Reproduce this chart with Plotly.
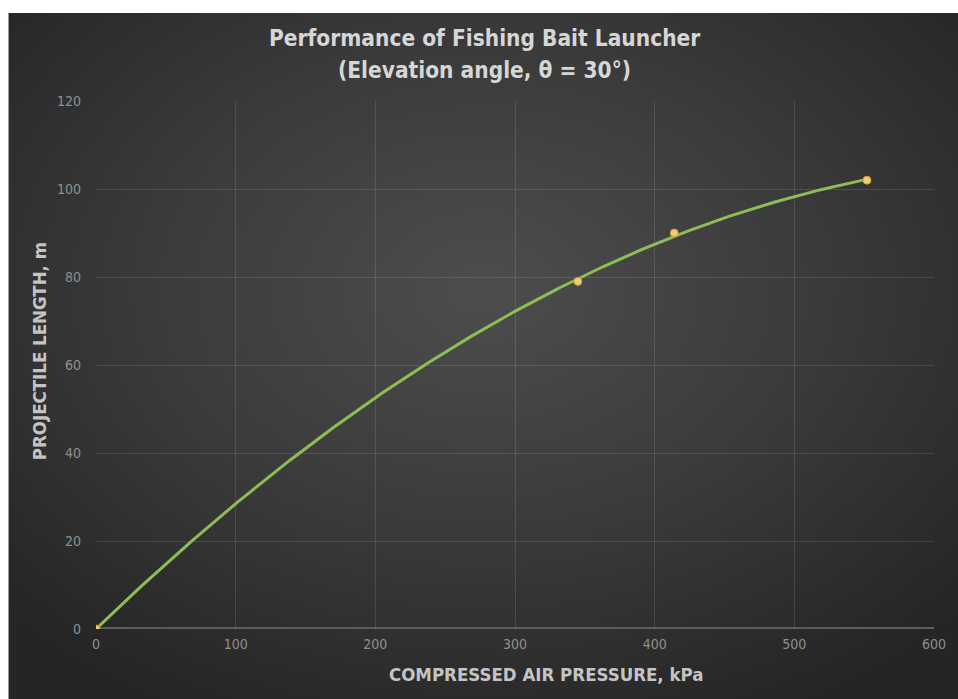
import base64
import numpy as np
import plotly.graph_objects as go

# ---- Data ----
pressure_kpa = [0, 345, 414, 552]
projectile_length_m = [0, 79, 90, 102]
x_ticks = [0, 100, 200, 300, 400, 500, 600]
y_ticks = [0, 20, 40, 60, 80, 100, 120]

title_line1 = "Performance of Fishing Bait Launcher"
title_line2 = "(Elevation angle, θ = 30°)"
x_title = "COMPRESSED AIR PRESSURE, kPa"
y_title = "PROJECTILE LENGTH, m"

# ---- Trendline: 2nd-order polynomial least-squares fit (intercept 0), as Excel draws it ----
xd = np.array(pressure_kpa, dtype=float)
yd = np.array(projectile_length_m, dtype=float)
coef, *_ = np.linalg.lstsq(np.column_stack([xd, xd ** 2]), yd, rcond=None)
trend_x = np.linspace(xd.min(), xd.max(), 300)
trend_y = coef[0] * trend_x + coef[1] * trend_x ** 2

# ---- Layout geometry (page margin removed, so figure px == screen px) ----
W, H = 958, 699
ML, MR, MT, MB = 96, 21, 101, 70
PW, PH = W - ML - MR, H - MT - MB


def px_x(px):
    return (px - ML) / PW


def px_y(py):
    return 1 - (py - MT) / PH


BG_X0, BG_Y0 = 8, 13
BW, BH = W - BG_X0 + 4, H - BG_Y0 + 4
svg = f'''<svg xmlns="http://www.w3.org/2000/svg" width="{BW}" height="{BH}" viewBox="0 0 {BW} {BH}" preserveAspectRatio="none">
<defs><radialGradient id="g" cx="50%" cy="40%" r="68%">
<stop offset="0%" stop-color="#4d4d4d"/><stop offset="50%" stop-color="#3b3b3b"/><stop offset="100%" stop-color="#252525"/>
</radialGradient></defs><rect width="{BW}" height="{BH}" fill="url(#g)"/></svg>'''
src = "data:image/svg+xml;base64," + base64.b64encode(svg.encode()).decode()

FONT = "DejaVu Sans Condensed, Liberation Sans Narrow, Arial Narrow, sans-serif"

fig = go.Figure()
fig.add_trace(go.Scatter(
    x=trend_x, y=trend_y, mode="lines",
    line=dict(color="#8dbd55", width=3),
    hoverinfo="skip", showlegend=False, name="Poly. trendline"))
fig.add_trace(go.Scatter(
    x=pressure_kpa, y=projectile_length_m, mode="markers",
    marker=dict(color="#f0cd70", size=8, line=dict(color="#c99a3c", width=1)),
    showlegend=False, name="Measured"))

axis_common = dict(showgrid=True, gridcolor="rgba(255,255,255,0.11)", gridwidth=1,
                   zeroline=False, showline=False, ticks="",
                   tickfont=dict(family=FONT, size=14, color="#8f8f8f"))

fig.update_layout(
    width=W, height=H,
    margin=dict(l=ML, r=MR, t=MT, b=MB),
    paper_bgcolor="white", plot_bgcolor="rgba(0,0,0,0)",
    images=[dict(source=src, xref="paper", yref="paper",
                 x=px_x(BG_X0), y=px_y(BG_Y0), sizex=BW / PW, sizey=BH / PH,
                 xanchor="left", yanchor="top", sizing="stretch", layer="below")],
    xaxis=dict(range=[0, 600], tickvals=x_ticks, ticklabelstandoff=5, **axis_common),
    yaxis=dict(range=[0, 120], tickvals=y_ticks, ticklabelstandoff=14, **axis_common),
    annotations=[
        dict(text=title_line1, xref="paper", yref="paper", x=px_x(486), y=px_y(38),
             xanchor="center", yanchor="middle", showarrow=False,
             font=dict(family=FONT, size=22.5, color="#d6d6d6", weight="bold")),
        dict(text=title_line2, xref="paper", yref="paper", x=px_x(486), y=px_y(70),
             xanchor="center", yanchor="middle", showarrow=False,
             font=dict(family=FONT, size=22.5, color="#d6d6d6", weight="bold")),
        dict(text=x_title, xref="paper", yref="paper", x=px_x(548), y=px_y(674),
             xanchor="center", yanchor="middle", showarrow=False,
             font=dict(family=FONT, size=18.5, color="#c4c4c4", weight="bold")),
        dict(text=y_title, xref="paper", yref="paper", x=px_x(39), y=px_y(351),
             xanchor="center", yanchor="middle", showarrow=False, textangle=-90,
             font=dict(family=FONT, size=18.5, color="#c4c4c4", weight="bold")),
    ],
    shapes=[dict(type="line", xref="x", yref="y", x0=0, x1=600, y0=0, y1=0,
                 line=dict(color="#5c5c5c", width=4), layer="below")],
)

fig.write_html(
    "out.html",
    config={"displayModeBar": False},
    post_script="document.body.style.margin='0';document.documentElement.style.overflow='hidden';document.body.style.overflow='hidden';",
)
